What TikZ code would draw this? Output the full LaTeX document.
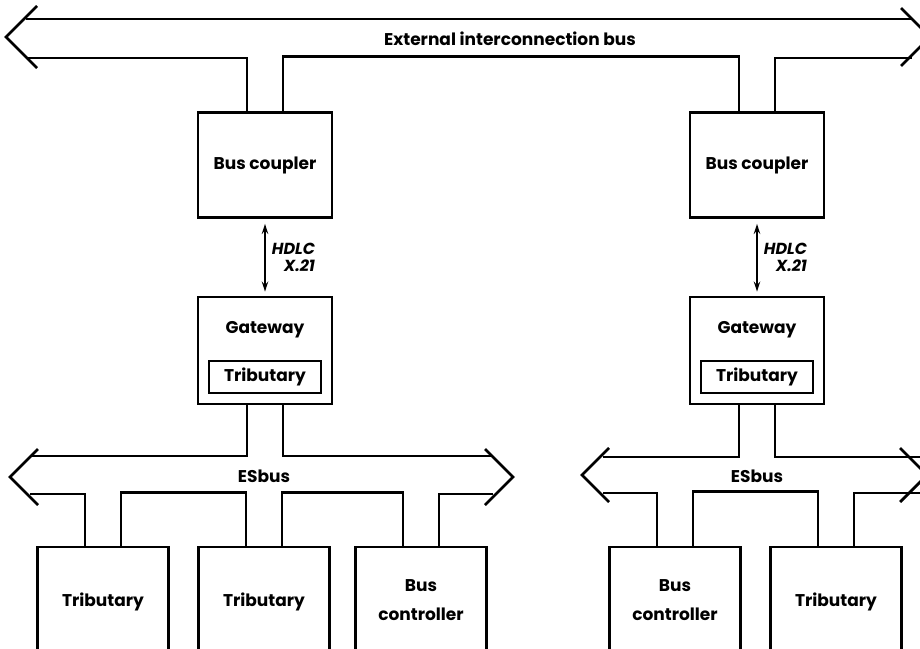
\documentclass[tikz,border=0pt]{standalone}
\usepackage{fontspec}
\setmainfont{Poppins}
\usetikzlibrary{arrows.meta}
\newcommand{\boxfont}{\fontsize{8.5pt}{10.2pt}\selectfont\bfseries}
\begin{document}
\begin{tikzpicture}[x=0.5pt,y=-0.5pt]
	\tikzstyle{Box} = [rectangle, draw=black, line width=1.4pt, text centered, font=\boxfont, inner sep=0pt]
	\tikzstyle{Unit} = [Box, minimum width=67pt, minimum height=52.5pt]
	\tikzstyle{Station} = [Box, minimum width=65.5pt, minimum height=55pt, align=center]
	\tikzstyle{Inner} = [Box, minimum width=56pt, minimum height=16pt]
	\tikzstyle{Label} = [font=\boxfont, inner sep=0pt]
	\tikzstyle{Bus} = [line width=1.4pt, line join=miter]
	\tikzstyle{arrow} = [line width=0.8pt, {Stealth[length=5pt,width=3.2pt]}-{Stealth[length=5pt,width=3.2pt]}, shorten <=2.5pt, shorten >=2pt]

	\useasboundingbox (0,0) rectangle (920,648);
	\clip (0,0) rectangle (920,648);

	\node (cplL) [Unit] at (265,165) {Bus coupler};
	\node (cplR) [Unit] at (757,165) {Bus coupler};
	\node (gwL) [Unit, minimum height=53.5pt] at (265,350.5) {};
	\node (gwR) [Unit, minimum height=53.5pt] at (757,350.5) {};
	\node (gwLt) [Label] at (265,330) {Gateway};
	\node (gwRt) [Label] at (757,330) {Gateway};
	\node (trGL) [Inner] at (265,377) {Tributary};
	\node (trGR) [Inner] at (757,377) {Tributary};

	\node (tribA) [Station] at (103,602) {Tributary};
	\node (tribB) [Station] at (264,602) {Tributary};
	\node (ctrlA) [Station, minimum height=53pt] at (421,600) {Bus\\[4.3pt]controller};
	\node (ctrlB) [Station, minimum height=53pt] at (675,600) {Bus\\[4.3pt]controller};
	\node (tribC) [Station] at (836,602) {Tributary};

	% external interconnection bus
	\draw [Bus] (37,6) -- (6,37) -- (37,68);
	\draw [Bus] (901,8) -- (930,37) -- (901,66);
	\draw [Bus] (26,19) -- (912,19);
	\draw [Bus] (26,58) -| ([xshift=-9pt]cplL.north);
	\draw [Bus] ([xshift=9pt]cplL.north) -- ++(0,-54.5) -| ([xshift=-9pt]cplR.north);
	\draw [Bus] ([xshift=9pt]cplR.north) |- (912,58);
	\node (ext) [Label] at (510,39) {External interconnection bus};

	% HDLC links
	\draw [arrow] (cplL) -- (gwL) node [midway, right=3pt, align=right, font=\bfseries\itshape\footnotesize, inner sep=0pt] {HDLC\\[-1pt]X.21};
	\draw [arrow] (cplR) -- (gwR) node [midway, right=3pt, align=right, font=\bfseries\itshape\footnotesize, inner sep=0pt] {HDLC\\[-1pt]X.21};

	% left ESbus
	\draw [Bus] (38,449) -- (10,477) -- (38,505);
	\draw [Bus] (485,449) -- (513,477) -- (485,505);
	\draw [Bus] (30,456) -| ([xshift=-9pt]gwL.south);
	\draw [Bus] ([xshift=9pt]gwL.south) |- (493,456);
	\draw [Bus] (30,494) -| ([xshift=-9pt]tribA.north);
	\draw [Bus] ([xshift=9pt]tribA.north) -- ++(0,-53) -| ([xshift=-9pt]tribB.north);
	\draw [Bus] ([xshift=9pt]tribB.north) -- ++(0,-53) -| ([xshift=-9pt]ctrlA.north);
	\draw [Bus] ([xshift=9pt]ctrlA.north) |- (493,494);
	\node (esL) [Label] at (264,476) {ESbus};

	% right ESbus
	\draw [Bus] (609,448) -- (582,475) -- (609,502);
	\draw [Bus] (900,448) -- (927,475) -- (900,502);
	\draw [Bus] (603,457) -| ([xshift=-9pt]gwR.south);
	\draw [Bus] ([xshift=9pt]gwR.south) |- (925,457);
	\draw [Bus] (603,493) -| ([xshift=-9pt]ctrlB.north);
	\draw [Bus] ([xshift=9pt]ctrlB.north) -- ++(0,-54) -| ([xshift=-9pt]tribC.north);
	\draw [Bus] ([xshift=9pt]tribC.north) |- (925,493);
	\node (esR) [Label] at (757,476) {ESbus};
\end{tikzpicture}
\end{document}
